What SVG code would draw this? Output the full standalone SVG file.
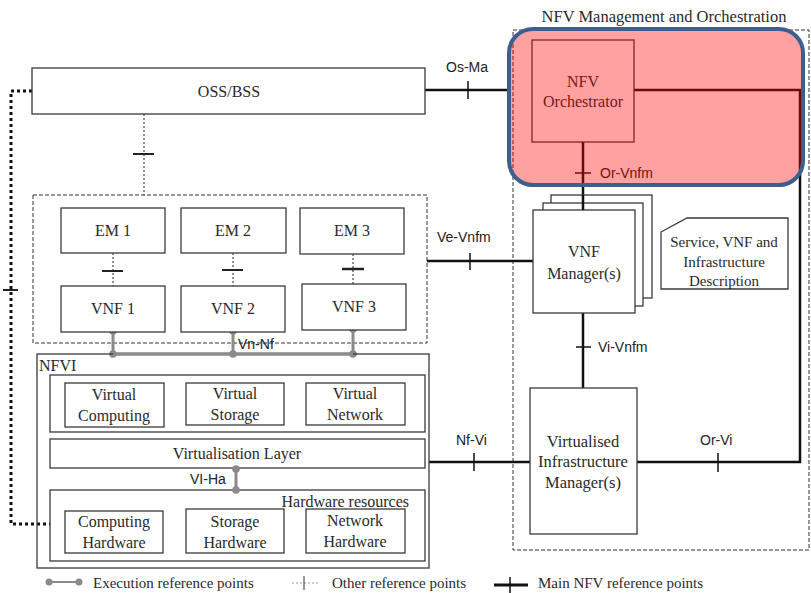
<svg xmlns="http://www.w3.org/2000/svg" width="811" height="593" viewBox="0 0 811 593">
  <style>
    .box { fill: #ffffff; stroke: #3a3a3a; stroke-width: 1.3; }
    .lbl { font-family: "Liberation Serif", "Times New Roman", serif; font-size: 16px; fill: #2a2a2a; text-anchor: middle; }
    .small { font-size: 15px; }
    .ref { font-family: "Liberation Sans", Arial, sans-serif; font-size: 14px; fill: #222; }
    .main { stroke: #111; stroke-width: 2.5; fill: none; }
    .tick { stroke: #111; stroke-width: 1.5; }
    .other { stroke: #222; stroke-width: 1; stroke-dasharray: 2,2; fill: none; }
    .otick { stroke: #222; stroke-width: 2; }
    .exec { stroke: #8a8a8a; stroke-width: 3; fill: none; }
    .dot { fill: #8a8a8a; }
    .dashbox { fill: none; stroke: #333; stroke-width: 1; stroke-dasharray: 4,2; }
  </style>

  <rect width="811" height="593" fill="#ffffff"/>

  <!-- NFV MANO frame -->
  <g id="mano-frame">
    <rect class="dashbox" x="513" y="30" width="296" height="520"/>
    <text class="lbl" x="664" y="22" style="font-size:16.5px">NFV Management and Orchestration</text>
  </g>

  <!-- VNF domain frame -->
  <g id="vnf-domain">
    <rect class="dashbox" x="33" y="195" width="394" height="148"/>
  </g>

  <!-- Connectors -->
  <g id="connectors">
    <!-- OSS/BSS to EM domain (other) -->
    <line class="other" x1="144" y1="114" x2="144" y2="195"/>
    <line class="otick" x1="133" y1="154" x2="154" y2="154"/>
    <!-- OSS/BSS to hardware (other, heavy dotted) -->
    <polyline points="32,91 11,91 11,524 50,524" fill="none" stroke="#111" stroke-width="3" stroke-dasharray="3,3"/>
    <line class="otick" x1="3" y1="290" x2="18" y2="290"/>
    <!-- EM to VNF -->
    <line class="other" x1="113" y1="253" x2="113" y2="286"/>
    <line class="otick" x1="102" y1="271" x2="123" y2="271"/>
    <line class="other" x1="233" y1="253" x2="233" y2="286"/>
    <line class="otick" x1="222" y1="270" x2="243" y2="270"/>
    <line class="other" x1="353" y1="254" x2="353" y2="284"/>
    <line class="otick" x1="342" y1="269" x2="364" y2="269" style="stroke-width:2.5"/>

    <!-- Vn-Nf execution points -->
    <line class="exec" x1="113" y1="332" x2="113" y2="354"/>
    <line class="exec" x1="233" y1="332" x2="233" y2="354"/>
    <line class="exec" x1="353" y1="330" x2="353" y2="354"/>
    <line class="exec" x1="113" y1="354" x2="353" y2="354"/>
    <circle class="dot" cx="113" cy="331" r="3.8"/>
    <circle class="dot" cx="113" cy="354" r="3.8"/>
    <circle class="dot" cx="233" cy="331" r="3.8"/>
    <circle class="dot" cx="233" cy="354" r="3.8"/>
    <circle class="dot" cx="353" cy="329" r="3.8"/>
    <circle class="dot" cx="353" cy="354" r="3.8"/>
    <text class="ref" x="238" y="349">Vn-Nf</text>

    <!-- VI-Ha -->
    <text class="ref" x="190" y="484">VI-Ha</text>

    <!-- Os-Ma -->
    <line class="main" x1="425" y1="90" x2="510" y2="90"/>
    <line class="tick" x1="468" y1="81" x2="468" y2="99"/>
    <text class="ref" x="446" y="72">Os-Ma</text>

    <!-- NFVO to VIM (Or-Vi) -->
    <polyline class="main" points="634,90 800,90 800,462 637,462"/>
    <line class="tick" x1="718" y1="453" x2="718" y2="472"/>
    <text class="ref" x="700" y="445">Or-Vi</text>

    <!-- Or-Vnfm -->
    <line class="main" x1="583" y1="142" x2="583" y2="210"/>
    <line class="tick" x1="575" y1="173" x2="591" y2="173"/>
    <text class="ref" x="600" y="178">Or-Vnfm</text>

    <!-- Ve-Vnfm -->
    <line class="main" x1="427" y1="261" x2="533" y2="261"/>
    <line class="tick" x1="470" y1="253" x2="470" y2="270"/>
    <text class="ref" x="437" y="242">Ve-Vnfm</text>

    <!-- Vi-Vnfm -->
    <line class="main" x1="583" y1="313" x2="583" y2="388"/>
    <line class="tick" x1="576" y1="347" x2="591" y2="347"/>
    <text class="ref" x="598" y="352">Vi-Vnfm</text>

    <!-- Nf-Vi -->
    <line class="main" x1="429" y1="462" x2="530" y2="462"/>
    <line class="tick" x1="474" y1="453" x2="474" y2="471"/>
    <text class="ref" x="456" y="445">Nf-Vi</text>
  </g>

  <!-- OSS/BSS -->
  <g id="oss-bss">
    <rect class="box" x="32" y="68" width="393" height="46"/>
    <text class="lbl" x="229" y="97">OSS/BSS</text>
  </g>

  <!-- Element managers -->
  <g id="em1">
    <rect class="box" x="61" y="208" width="104" height="45"/>
    <text class="lbl" x="113" y="236">EM 1</text>
  </g>
  <g id="em2">
    <rect class="box" x="181" y="208" width="105" height="45"/>
    <text class="lbl" x="233" y="236">EM 2</text>
  </g>
  <g id="em3">
    <rect class="box" x="300" y="208" width="104" height="46"/>
    <text class="lbl" x="352" y="236">EM 3</text>
  </g>

  <!-- VNFs -->
  <g id="vnf1">
    <rect class="box" x="61" y="286" width="104" height="46"/>
    <text class="lbl" x="113" y="314">VNF 1</text>
  </g>
  <g id="vnf2">
    <rect class="box" x="181" y="286" width="104" height="46"/>
    <text class="lbl" x="233" y="314">VNF 2</text>
  </g>
  <g id="vnf3">
    <rect class="box" x="302" y="284" width="104" height="46"/>
    <text class="lbl" x="354" y="312">VNF 3</text>
  </g>

  <!-- NFVI -->
  <g id="nfvi">
    <rect class="box" x="37" y="354" width="392" height="214" style="fill:none"/>
    <line x1="113" y1="354" x2="353" y2="354" class="exec"/>
    <text class="lbl" x="39" y="371" style="text-anchor:start">NFVI</text>
  </g>
  <g id="virtual-resources">
    <rect class="box" x="50" y="375" width="375" height="57"/>
  </g>
  <g id="virtual-computing">
    <rect class="box" x="65" y="383" width="99" height="44"/>
    <text class="lbl" x="114" y="400">Virtual</text>
    <text class="lbl" x="114" y="421">Computing</text>
  </g>
  <g id="virtual-storage">
    <rect class="box" x="186" y="383" width="98" height="42"/>
    <text class="lbl" x="235" y="399">Virtual</text>
    <text class="lbl" x="235" y="420">Storage</text>
  </g>
  <g id="virtual-network">
    <rect class="box" x="306" y="383" width="99" height="42"/>
    <text class="lbl" x="355" y="399">Virtual</text>
    <text class="lbl" x="355" y="420">Network</text>
  </g>
  <g id="virtualisation-layer">
    <rect class="box" x="50" y="439" width="375" height="29"/>
    <text class="lbl" x="237" y="459">Virtualisation Layer</text>
  </g>
  <g id="hardware-resources">
    <rect class="box" x="50" y="490" width="375" height="71"/>
    <text class="lbl" x="409" y="507" style="text-anchor:end">Hardware resources</text>
  </g>
  <g id="computing-hardware">
    <rect class="box" x="65" y="511" width="98" height="42"/>
    <text class="lbl" x="114" y="527">Computing</text>
    <text class="lbl" x="114" y="548">Hardware</text>
  </g>
  <g id="storage-hardware">
    <rect class="box" x="186" y="509" width="98" height="44"/>
    <text class="lbl" x="235" y="527">Storage</text>
    <text class="lbl" x="235" y="548">Hardware</text>
  </g>
  <g id="network-hardware">
    <rect class="box" x="306" y="509" width="99" height="44"/>
    <text class="lbl" x="355" y="526">Network</text>
    <text class="lbl" x="355" y="547">Hardware</text>
  </g>
  <!-- VI-Ha execution point between the two layers -->
  <g id="vi-ha-points">
    <line class="exec" x1="236" y1="469" x2="236" y2="490"/>
    <circle class="dot" cx="236" cy="469" r="3.8"/>
    <circle class="dot" cx="236" cy="490" r="3.8"/>
  </g>

  <!-- NFV Orchestrator -->
  <g id="nfvo">
    <rect class="box" x="532" y="40" width="102" height="102"/>
    <text class="lbl" x="583" y="87">NFV</text>
    <text class="lbl" x="583" y="107">Orchestrator</text>
  </g>

  <!-- VNF Manager(s), stacked -->
  <g id="vnfm">
    <rect class="box" x="551" y="195" width="101" height="103"/>
    <rect class="box" x="543" y="203" width="100" height="103"/>
    <rect class="box" x="533" y="210" width="102" height="103"/>
    <line class="main" x1="583" y1="195" x2="583" y2="210"/>
    <text class="lbl" x="584" y="257">VNF</text>
    <text class="lbl" x="584" y="279">Manager(s)</text>
  </g>

  <!-- Descriptors -->
  <g id="descriptors">
    <path class="box" d="M661,232 L687,218 L788,218 L788,289 L661,289 Z"/>
    <text class="lbl small" x="724" y="247">Service, VNF and</text>
    <text class="lbl small" x="724" y="267">Infrastructure</text>
    <text class="lbl small" x="724" y="286">Description</text>
  </g>

  <!-- VIM -->
  <g id="vim">
    <rect class="box" x="530" y="388" width="107" height="146"/>
    <text class="lbl" x="583" y="447" style="font-size:16.5px">Virtualised</text>
    <text class="lbl" x="583" y="467" style="font-size:16.5px">Infrastructure</text>
    <text class="lbl" x="583" y="488" style="font-size:16.5px">Manager(s)</text>
  </g>

  <!-- Highlight around the orchestrator -->
  <g id="nfvo-highlight">
    <rect x="509" y="29" width="294" height="156" rx="24" ry="24" fill="#ff0000" fill-opacity="0.37" stroke="#3c5f8e" stroke-width="4"/>
  </g>

  <!-- Legend -->
  <g id="legend">
    <line class="exec" x1="49" y1="582" x2="79" y2="582" style="stroke-width:2"/>
    <circle class="dot" cx="49" cy="582" r="3.5"/>
    <circle class="dot" cx="79" cy="582" r="3.5"/>
    <text class="lbl small" x="93" y="588" style="text-anchor:start">Execution reference points</text>
    <line class="other" x1="292" y1="583" x2="320" y2="583" style="stroke:#999"/>
    <line x1="304" y1="576" x2="304" y2="590" stroke="#555" stroke-width="1.2"/>
    <text class="lbl small" x="332" y="588" style="text-anchor:start">Other reference points</text>
    <line x1="494" y1="585" x2="528" y2="585" stroke="#111" stroke-width="3"/>
    <line x1="510" y1="577" x2="510" y2="593" stroke="#111" stroke-width="1.5"/>
    <text class="lbl small" x="538" y="588" style="text-anchor:start">Main NFV reference points</text>
  </g>
</svg>
